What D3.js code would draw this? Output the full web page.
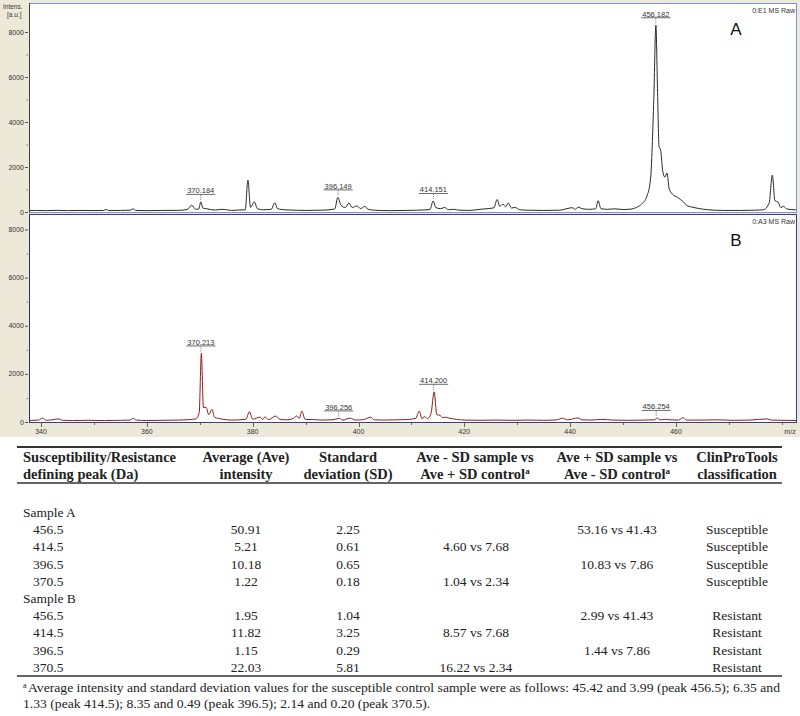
<!DOCTYPE html>
<html>
<head>
<meta charset="utf-8">
<script src="https://cdn.jsdelivr.net/npm/d3@7"></script>
<style>
  body { margin: 0; background: #fff; }
  svg { display: block; }
</style>
</head>
<body>
<div class="chart"></div>
<script>
// spectrum A (susceptible) : [m/z, intensity]
var specA = [[337,60],[339,70],[341,60],[343,75],[345,60],[347,70],[350,65],[351.8,70],[352.3,110],[352.8,65],[355,70],[356.9,80],[357.4,140],[357.9,70],[360,60],[363,70],[366,75],
  [367.6,110],[368.5,300],[369.2,120],[369.8,130],[370.2,450],[370.6,170],[371.2,150],[372,110],[373,90],[374.2,120],[375,100],[376,70],[377.5,90],[378.6,100],
  [379.1,1420],[379.6,200],[380.3,450],[380.9,150],[382,100],[383.5,120],[384.2,410],[384.7,150],[385.5,110],[387,90],[390,70],[393,80],[395.5,130],
  [396.1,650],[396.7,300],[397.5,200],[398.2,400],[398.8,200],[399.7,270],[400.4,150],[401.2,250],[401.8,120],[403,80],[406,60],[409,70],[411,80],
  [413.5,110],[414.1,490],[414.6,200],[415.5,150],[416.3,200],[417,100],[418,120],[419,80],[421,70],[423,120],[424.5,150],[425.6,190],[426.2,560],
  [426.7,250],[427.3,350],[427.8,230],[428.3,400],[428.9,180],[429.6,200],[430.5,100],[432,80],[435,70],[438,80],[440.4,190],[441,120],[441.5,220],
  [442.2,150],[443.5,120],[444.8,140],[445.3,500],[445.8,150],[447,120],[448.5,140],[450,110],[451.5,130],[452.5,200],[453.5,350],[454.5,700],
  [455.2,1500],[455.8,5000],[456.2,8300],[456.5,5500],[456.8,2900],[457.1,2750],[457.5,1800],[457.9,1550],[458.3,1730],[458.7,1050],[459.3,800],
  [460.3,650],[461.4,450],[462,300],[463,220],[464.5,150],[466,100],[469,70],[472,70],[475,80],[476.5,100],[477.6,400],[478.2,1640],[478.7,500],
  [479.3,440],[479.8,200],[480.3,250],[481,130],[482.5,100],[484,80]];

// spectrum B (resistant)
var specB = [[337,60],[339.5,80],[340.3,160],[341,70],[342,90],[343.4,130],[344,70],[346,60],[349,70],[352,60],[355,70],[356.8,80],[357.4,150],[358,80],
  [360,60],[363,70],[366,80],[368,100],[369.3,130],[369.9,400],[370.3,2850],[370.7,600],[371.2,610],[371.7,300],[372.3,525],[372.8,200],[373.5,150],
  [374.5,110],[376,80],[378.7,110],[379.4,430],[380,120],[381.4,200],[381.9,100],[382.3,210],[383,100],[384.4,250],[385,120],[386.5,90],[387.7,150],
  [388.3,250],[388.8,150],[389.3,455],[389.9,110],[391.5,100],[393,80],[395,90],[396.4,150],[397,80],[398.4,160],[399.5,80],[401,100],[402.3,200],
  [403,90],[405,80],[407,90],[409,100],[410.8,150],[411.5,455],[412,130],[412.4,230],[413,150],[413.7,350],[414.3,1255],[414.8,300],[415.4,280],
  [415.9,180],[416.4,200],[417.3,150],[418.5,110],[420,80],[423,70],[426,80],[429,70],[432,80],[435,70],[437.5,90],[438.5,160],[439.5,90],[441.5,170],
  [442.2,90],[444,80],[446,110],[448,80],[451,70],[454,80],[456,90],[456.4,170],[457,90],[458,110],[459,90],[460.5,80],[461.3,180],[462,80],[465,80],
  [468,90],[471,70],[474,80],[477.2,130],[478,80],[480,70],[484,60]];

var peaksA = [[370.184,450],[396.149,650],[414.151,490],[456.182,8300]];
var peaksB = [[370.213,2850],[396.256,150],[414.200,1255],[456.254,170]];

var yTicks = [0, 2000, 4000, 6000, 8000];
var xTicks = [340, 360, 380, 400, 420, 440, 460];

// table
var headers = [["Susceptibility/Resistance", "defining peak (Da)"], ["Average (Ave)", "intensity"], ["Standard", "deviation (SD)"],
  ["Ave - SD sample vs", "Ave + SD control"], ["Ave + SD sample vs", "Ave - SD control"], ["ClinProTools", "classification"]];
var headerSup = [false, false, false, true, true, false];
var groups = ["Sample A", "Sample B"];
var peakCol = ["456.5", "414.5", "396.5", "370.5"];
var aveA = ["50.91", "5.21", "10.18", "1.22"];
var sdA = ["2.25", "0.61", "0.65", "0.18"];
var lowA = ["", "4.60 vs 7.68", "", "1.04 vs 2.34"];
var highA = ["53.16 vs 41.43", "", "10.83 vs 7.86", ""];
var classA = ["Susceptible", "Susceptible", "Susceptible", "Susceptible"];
var aveB = ["1.95", "11.82", "1.15", "22.03"];
var sdB = ["1.04", "3.25", "0.29", "5.81"];
var lowB = ["", "8.57 vs 7.68", "", "16.22 vs 2.34"];
var highB = ["2.99 vs 41.43", "", "1.44 vs 7.86", ""];
var classB = ["Resistant", "Resistant", "Resistant", "Resistant"];
var footnote = ["Average intensity and standard deviation values for the susceptible control sample were as follows: 45.42 and 3.99 (peak 456.5); 6.35 and",
  "1.33 (peak 414.5); 8.35 and 0.49 (peak 396.5); 2.14 and 0.20 (peak 370.5)."];

var width = 800, height = 716;
var svg = d3.select(".chart").append("svg")
    .attr("width", width)
    .attr("height", height);

var plotLeft = 29, plotRight = 797;
var x = d3.scaleLinear().domain([340, 460]).range([41, 676]);

// beige window background
svg.append("rect")
    .attr("x", 0).attr("y", 0)
    .attr("width", width).attr("height", 437)
    .attr("fill", "#ece9d8");

function drawPanel(top, bottom, y, data, peaks, color, frame, axisColor, tag, letter, clipId) {
    svg.append("rect")
        .attr("x", plotLeft).attr("y", top)
        .attr("width", plotRight - plotLeft).attr("height", bottom - top)
        .attr("fill", "white");

    svg.append("clipPath").attr("id", clipId)
      .append("rect")
        .attr("x", plotLeft).attr("y", top)
        .attr("width", plotRight - plotLeft).attr("height", bottom - top);

    var line = d3.line()
        .x(function(d) { return x(d[0]); })
        .y(function(d) { return y(d[1]); })
        .curve(d3.curveMonotoneX);

    svg.append("path")
        .datum(data)
        .attr("clip-path", "url(#" + clipId + ")")
        .attr("d", line)
        .attr("fill", "none")
        .attr("stroke", color)
        .attr("stroke-width", 1);

    // peak labels
    peaks.forEach(function(p) {
        var px = x(p[0]), py = y(p[1]);
        svg.append("line")
            .attr("x1", px).attr("x2", px)
            .attr("y1", py - 7).attr("y2", py - 1)
            .attr("stroke", "#555")
            .attr("stroke-width", 0.8)
            .attr("stroke-dasharray", "1,1");
        var t = svg.append("text")
            .attr("x", px).attr("y", py - 8.5)
            .attr("text-anchor", "middle")
            .attr("font-family", "Liberation Sans, Arial, sans-serif")
            .attr("font-size", "7.5px")
            .attr("fill", "#333")
            .text(p[0].toFixed(3));
        var w = t.node().getComputedTextLength();
        svg.append("line")
            .attr("x1", px - w / 2 - 1).attr("x2", px + w / 2 + 1)
            .attr("y1", py - 7.5).attr("y2", py - 7.5)
            .attr("stroke", "#444")
            .attr("stroke-width", 0.8);
    });

    // frame
    svg.append("rect")
        .attr("x", plotLeft + 0.5).attr("y", top + 0.5)
        .attr("width", plotRight - plotLeft - 1).attr("height", bottom - top - 1)
        .attr("fill", "none")
        .attr("stroke", frame)
        .attr("stroke-width", 1);

    svg.append("line")
        .attr("x1", plotLeft + 0.5).attr("x2", plotLeft + 0.5)
        .attr("y1", top).attr("y2", bottom)
        .attr("stroke", axisColor)
        .attr("stroke-width", 1);

    // y ticks
    yTicks.forEach(function(v) {
        svg.append("text")
            .attr("x", 24).attr("y", y(v) + 2.5)
            .attr("text-anchor", "end")
            .attr("font-family", "Liberation Sans, Arial, sans-serif")
            .attr("font-size", "7px")
            .attr("fill", "#333")
            .text(v);
        svg.append("line")
            .attr("x1", 25).attr("x2", 28)
            .attr("y1", y(v) + 0.5).attr("y2", y(v) + 0.5)
            .attr("stroke", "#555");
        if (v < 8000) {
            svg.append("line")
                .attr("x1", 26.5).attr("x2", 28)
                .attr("y1", y(v + 1000) + 0.5).attr("y2", y(v + 1000) + 0.5)
                .attr("stroke", "#777");
        }
    });

    svg.append("text")
        .attr("x", 795).attr("y", top + 10)
        .attr("text-anchor", "end")
        .attr("font-family", "Liberation Sans, Arial, sans-serif")
        .attr("font-size", "7px")
        .attr("fill", "#333")
        .text(tag);

    svg.append("text")
        .attr("x", 736).attr("y", top + 32)
        .attr("text-anchor", "middle")
        .attr("font-family", "Liberation Sans, Arial, sans-serif")
        .attr("font-size", "17px")
        .attr("fill", "#111")
        .text(letter);
}

var yA = d3.scaleLinear().domain([0, 8000]).range([212, 32]);
var yB = d3.scaleLinear().domain([0, 8000]).range([422, 229.5]);

drawPanel(3, 213, yA, specA, peaksA, "#2a2a2a", "#7d92d8", "#444", "0:E1 MS Raw", "A", "clipA");
drawPanel(214, 423, yB, specB, peaksB, "#8b1f1f", "#3a3a9a", "#2a2a8a", "0:A3 MS Raw", "B", "clipB");

svg.append("text")
    .attr("x", 3).attr("y", 9)
    .attr("font-family", "Liberation Sans, Arial, sans-serif")
    .attr("font-size", "6.5px")
    .attr("fill", "#333")
    .text("Intens.");
svg.append("text")
    .attr("x", 7).attr("y", 17)
    .attr("font-family", "Liberation Sans, Arial, sans-serif")
    .attr("font-size", "6.5px")
    .attr("fill", "#333")
    .text("[a.u.]");

// x axis
d3.range(340, 481, 10).forEach(function(v) {
    var major = xTicks.indexOf(v) >= 0;
    svg.append("line")
        .attr("x1", Math.round(x(v)) + 0.5).attr("x2", Math.round(x(v)) + 0.5)
        .attr("y1", 423).attr("y2", major ? 427 : 425)
        .attr("stroke", "#666");
    if (major) {
        svg.append("text")
            .attr("x", x(v)).attr("y", 434)
            .attr("text-anchor", "middle")
            .attr("font-family", "Liberation Sans, Arial, sans-serif")
            .attr("font-size", "7px")
            .attr("fill", "#333")
            .text(v);
    }
});
svg.append("text")
    .attr("x", 790).attr("y", 434)
    .attr("text-anchor", "middle")
    .attr("font-family", "Liberation Sans, Arial, sans-serif")
    .attr("font-size", "7px")
    .attr("fill", "#333")
    .text("m/z");

// ---- table ----
var serif = "Liberation Serif, Times New Roman, serif";
var tLeft = 17, tRight = 782;
var colX = [23, 246, 348, 475, 617, 737];
var valX = [33, 246, 348, 476, 617, 737];

svg.append("line").attr("x1", tLeft).attr("x2", tRight).attr("y1", 447).attr("y2", 447)
    .attr("stroke", "#333").attr("stroke-width", 2);
svg.append("line").attr("x1", tLeft).attr("x2", tRight).attr("y1", 483).attr("y2", 483)
    .attr("stroke", "#333").attr("stroke-width", 1.5);
svg.append("line").attr("x1", tLeft).attr("x2", tRight).attr("y1", 676).attr("y2", 676)
    .attr("stroke", "#333").attr("stroke-width", 1.5);

headers.forEach(function(h, i) {
    h.forEach(function(line, j) {
        var t = svg.append("text")
            .attr("x", colX[i]).attr("y", 462 + j * 17)
            .attr("text-anchor", i === 0 ? "start" : "middle")
            .attr("font-family", serif)
            .attr("font-size", "14.5px")
            .attr("font-weight", "bold")
            .attr("fill", "#222");
        t.append("tspan").text(line);
        if (j === 1 && headerSup[i]) {
            t.append("tspan").attr("font-size", "9px").attr("dy", -5).text("a");
        }
    });
});

function cell(txt, col, yy) {
    if (!txt) return;
    svg.append("text")
        .attr("x", valX[col]).attr("y", yy)
        .attr("text-anchor", col === 0 ? "start" : "middle")
        .attr("font-family", serif)
        .attr("font-size", "13.5px")
        .attr("fill", "#222")
        .text(txt);
}

var rowH = 17.2;
var yy = 517;
[[aveA, sdA, lowA, highA, classA], [aveB, sdB, lowB, highB, classB]].forEach(function(g, gi) {
    svg.append("text")
        .attr("x", 23).attr("y", yy)
        .attr("font-family", serif)
        .attr("font-size", "13.5px")
        .attr("fill", "#222")
        .text(groups[gi]);
    yy += rowH;
    peakCol.forEach(function(p, r) {
        cell(p, 0, yy);
        cell(g[0][r], 1, yy);
        cell(g[1][r], 2, yy);
        cell(g[2][r], 3, yy);
        cell(g[3][r], 4, yy);
        cell(g[4][r], 5, yy);
        yy += rowH;
    });
});

// footnote: the source font is narrow, so stretch to the measured line width
var ratio = 1;
footnote.forEach(function(f, i) {
    var t = svg.append("text")
        .attr("x", i === 0 ? 28 : 23).attr("y", 692 + i * 16)
        .attr("font-family", serif)
        .attr("font-size", "13px")
        .attr("fill", "#222")
        .text(f);
    var len = t.node().getComputedTextLength();
    if (i === 0) ratio = (780 - 28) / len;
    t.attr("textLength", len * ratio).attr("lengthAdjust", "spacingAndGlyphs");
});
svg.append("text")
    .attr("x", 23).attr("y", 688)
    .attr("font-family", serif)
    .attr("font-size", "8px")
    .attr("fill", "#222")
    .text("a");
</script>
</body>
</html>
